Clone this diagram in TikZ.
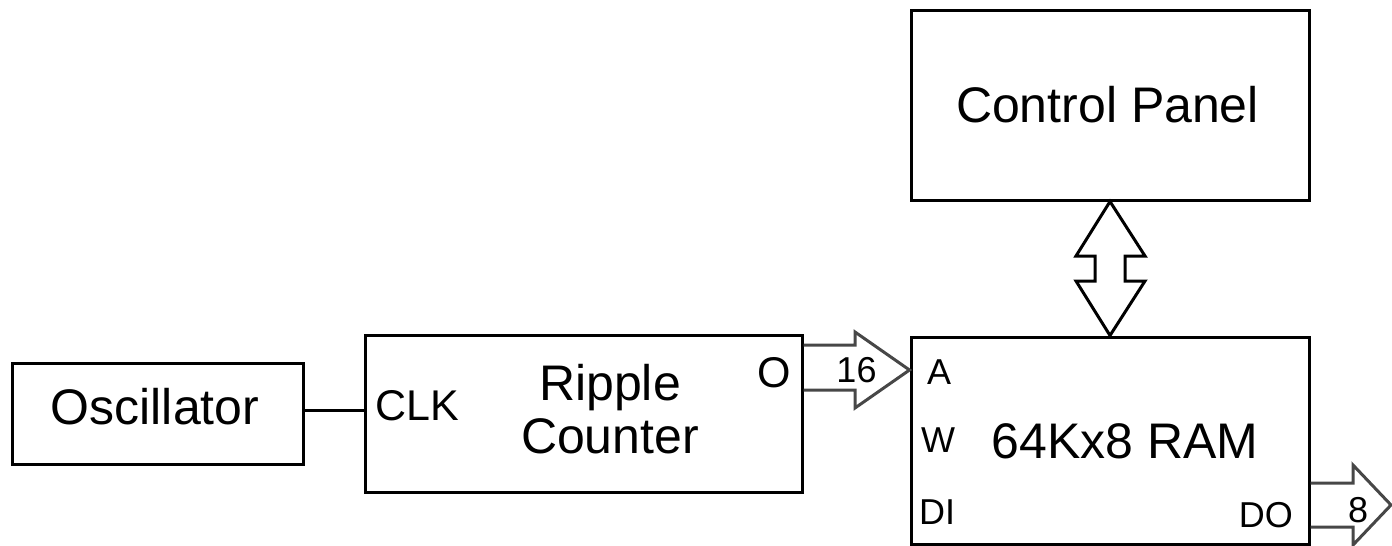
\documentclass[tikz,border=0pt]{standalone}
\usepackage{fontspec}
\setmainfont{Liberation Sans}
\usepackage{tikz}
\usetikzlibrary{positioning}

\begin{document}
\begin{tikzpicture}[x=1pt, y=-1pt,
        block/.style={draw, line width=3pt, inner sep=0pt},
        big/.style={font=\fontsize{50}{53}\selectfont, inner sep=0pt},
        mid/.style={font=\fontsize{43}{46}\selectfont, inner sep=0pt},
        port/.style={font=\fontsize{36}{40}\selectfont, inner sep=0pt},
        wire/.style={line width=3pt},
        bus/.style={draw=black!72, line width=3pt, line join=miter},
        bothway/.style={draw=black, line width=3pt, line join=miter}]
        \useasboundingbox (0,0) rectangle (1392,546);

        %boxes
        \node[block, minimum width=291pt, minimum height=101pt] (osc) at (157.5,413.5) {};
        \node[block, minimum width=437pt, minimum height=157pt] (ripple) at (583.5,413.5) {};
        \node[block, minimum width=398pt, minimum height=190pt] (panel) at (1110,105) {};
        \node[block, minimum width=398pt, minimum height=207pt] (ram) at (1110,440.5) {};

        %texts
        \node[big, anchor=base] (osctext) at (155,424) {Oscillator};
        \node[big, anchor=north, align=center] (rippletext) at (610,364) {Ripple\\Counter};
        \node[big, anchor=base] (paneltext) at (1107.5,122) {Control Panel};
        \node[big, anchor=base] (ramtext) at (1125,458) {64Kx8 RAM};
        \node[mid, anchor=base west] (clk) at (375,420) {CLK};
        \node[mid, anchor=base east] (out) at (791,387) {O};
        \node[port, anchor=base west] (addr) at (927,384) {A};
        \node[port, anchor=base west] (wr) at (921,452) {W};
        \node[port, anchor=base west] (din) at (919,524) {DI};
        \node[port, anchor=base east] (dout) at (1293,527) {DO};

        %clock line
        \draw[wire] ([yshift=3pt]osc.east) -- ([yshift=3pt]osc.east -| ripple.west);

        %16 bit bus
        \draw[bus] (ripple.east |- 0,345) -- (855,345) -- (855,332) -- (ram.west |- 0,370)
            -- (855,408) -- (855,390) -- (ripple.east |- 0,390);
        \node[port, anchor=base] (w16) at (856.5,382) {16};

        %panel <-> ram
        \draw[bothway] (panel.south) -- (1145,256) -- (1125,256) -- (1125,281) -- (1145,281)
            -- (ram.north) -- (1076,281) -- (1095,281) -- (1095,256) -- (1076,256) -- cycle;

        %8 bit out
        \draw[bus] (ram.east |- 0,483) -- (1353,483) -- (1353,465) -- (1391,505)
            -- (1353,545) -- (1353,527) -- (ram.east |- 0,527);
        \node[port, anchor=base] (w8) at (1358,522) {8};

    \end{tikzpicture}
\end{document}
